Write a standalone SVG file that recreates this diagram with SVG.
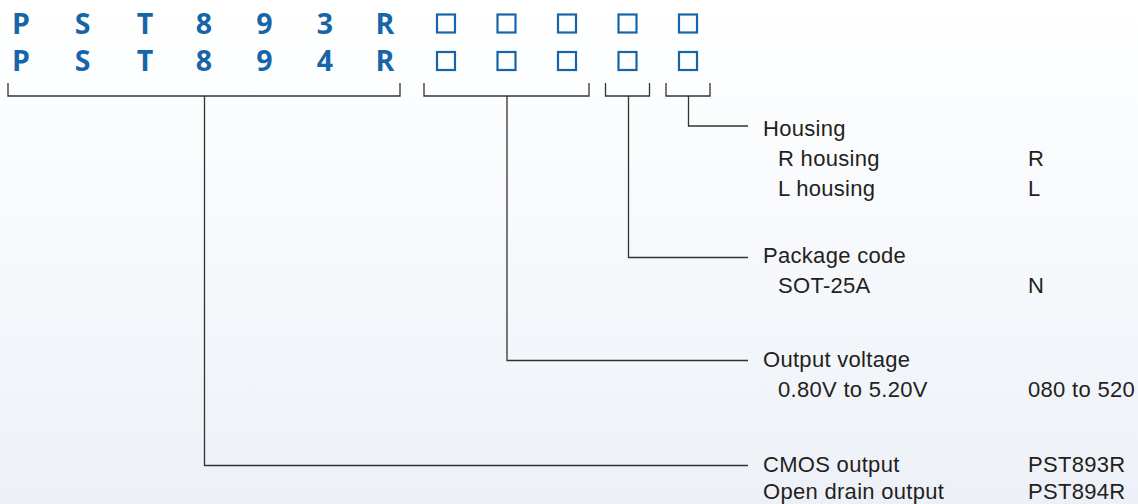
<svg xmlns="http://www.w3.org/2000/svg" width="1138" height="504" viewBox="0 0 1138 504">
<defs>
<linearGradient id="bg" x1="0" y1="0" x2="0" y2="1">
<stop offset="0" stop-color="#ffffff"/>
<stop offset="0.12" stop-color="#fdfeff"/>
<stop offset="1" stop-color="#edf1f7"/>
</linearGradient>
<style>
.pn{font-family:"Open Sans","Liberation Sans",sans-serif;font-weight:700;font-size:28.5px;fill:#1765a8;text-anchor:middle}
.sq{fill:none;stroke:#1765a8;stroke-width:2.2}
.br{fill:none;stroke:#333333;stroke-width:1.3}
.t{font-family:"Liberation Sans",Arial,sans-serif;font-size:22px;fill:#231f20;letter-spacing:0.3px}
</style>
</defs>
<rect width="1138" height="504" fill="url(#bg)"/>
<g id="partnumber">
<text class="pn" x="21" y="34">P</text>
<text class="pn" x="82.5" y="34">S</text>
<text class="pn" x="145" y="34">T</text>
<text class="pn" x="204" y="34">8</text>
<text class="pn" x="264.5" y="34">9</text>
<text class="pn" x="325" y="34">3</text>
<text class="pn" x="385" y="34">R</text>
<text class="pn" x="21" y="71">P</text>
<text class="pn" x="82.5" y="71">S</text>
<text class="pn" x="145" y="71">T</text>
<text class="pn" x="204" y="71">8</text>
<text class="pn" x="264.5" y="71">9</text>
<text class="pn" x="325" y="71">4</text>
<text class="pn" x="385" y="71">R</text>
<rect class="sq" x="437" y="14.5" width="18" height="18"/>
<rect class="sq" x="497.5" y="14.5" width="18" height="18"/>
<rect class="sq" x="558" y="14.5" width="18" height="18"/>
<rect class="sq" x="618.5" y="14.5" width="18" height="18"/>
<rect class="sq" x="679" y="14.5" width="18" height="18"/>
<rect class="sq" x="437" y="52" width="18" height="18"/>
<rect class="sq" x="497.5" y="52" width="18" height="18"/>
<rect class="sq" x="558" y="52" width="18" height="18"/>
<rect class="sq" x="618.5" y="52" width="18" height="18"/>
<rect class="sq" x="679" y="52" width="18" height="18"/>
</g>
<g id="connectors">
<path class="br" d="M8,83 V96 H400 V83"/>
<path class="br" d="M424,83 V96 H589 V83"/>
<path class="br" d="M605.5,83 V96 H649.5 V83"/>
<path class="br" d="M666,83 V96 H710 V83"/>
<path class="br" d="M688.5,96 V126 H748"/>
<path class="br" d="M628.5,96 V257.5 H748"/>
<path class="br" d="M507,96 V360.5 H748"/>
<path class="br" d="M204.5,96 V465.5 H748"/>
</g>
<g id="housing">
<text class="t" x="763" y="136">Housing</text>
<text class="t" x="778" y="166">R housing</text>
<text class="t" x="778" y="196">L housing</text>
<text class="t" x="1028" y="166">R</text>
<text class="t" x="1028" y="196">L</text>
</g>
<g id="package">
<text class="t" x="763" y="263">Package code</text>
<text class="t" x="778" y="293">SOT-25A</text>
<text class="t" x="1028" y="293">N</text>
</g>
<g id="voltage">
<text class="t" x="763" y="367">Output voltage</text>
<text class="t" x="778" y="397">0.80V to 5.20V</text>
<text class="t" x="1028" y="397">080 to 520</text>
</g>
<g id="output">
<text class="t" x="763" y="472">CMOS output</text>
<text class="t" x="763" y="499">Open drain output</text>
<text class="t" x="1028" y="472">PST893R</text>
<text class="t" x="1028" y="499">PST894R</text>
</g>
</svg>
